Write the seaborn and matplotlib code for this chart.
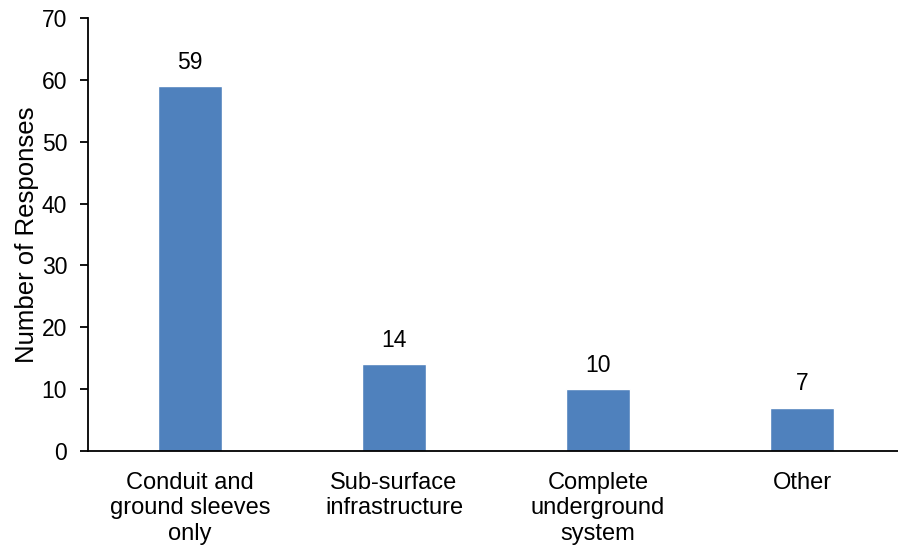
import matplotlib
matplotlib.use("Agg")
import matplotlib.pyplot as plt
import seaborn as sns
import pandas as pd

categories = ["Conduit and ground sleeves only", "Sub-surface infrastructure",
              "Complete underground system", "Other"]
tick_labels = ["Conduit and\nground sleeves\nonly", "Sub-surface\ninfrastructure",
               "Complete\nunderground\nsystem", "Other"]
responses = [59, 14, 10, 7]

df = pd.DataFrame({"category": categories, "responses": responses})

sns.set_style("white")
plt.rcParams['font.family'] = ['Liberation Sans', 'DejaVu Sans']
plt.rcParams['text.color'] = 'black'
plt.rcParams['xtick.color'] = 'black'
plt.rcParams['ytick.color'] = 'black'
plt.rcParams['axes.labelcolor'] = 'black'

fig = plt.figure(figsize=(8.98, 5.5), dpi=100)
ax = fig.add_axes([88 / 898, 1 - 451 / 550, 816 / 898, 433 / 550])

sns.barplot(data=df, x="category", y="responses", color="#4F81BD",
            saturation=1, width=0.31, ax=ax)

# value labels above bars
for c in ax.containers:
    ax.bar_label(c, padding=9, fontsize=16.5, color="black")

ax.set_xlim(-0.5, 3.5)
ax.set_ylim(0, 70)
ax.set_yticks(range(0, 71, 10))
ax.set_xticks(range(4))
ax.set_xticklabels(tick_labels, fontsize=17, linespacing=1.2)
ax.set_xticks([-0.5, 0.5, 1.5, 2.5, 3.5], minor=True)
ax.tick_params(axis="x", which="major", length=0, pad=15)
ax.tick_params(axis="x", which="minor", length=6, width=1.3, direction="out")
ax.tick_params(axis="y", length=6, width=1.3, direction="out", labelsize=16.5,
               left=True, pad=9)
ax.set_xlabel("")
ax.set_ylabel("Number of Responses", fontsize=18.5, labelpad=2)

sns.despine(ax=ax)
for s in ["left", "bottom"]:
    ax.spines[s].set_color("black")
    ax.spines[s].set_linewidth(1.3)

fig.savefig("out.png", dpi=100)
